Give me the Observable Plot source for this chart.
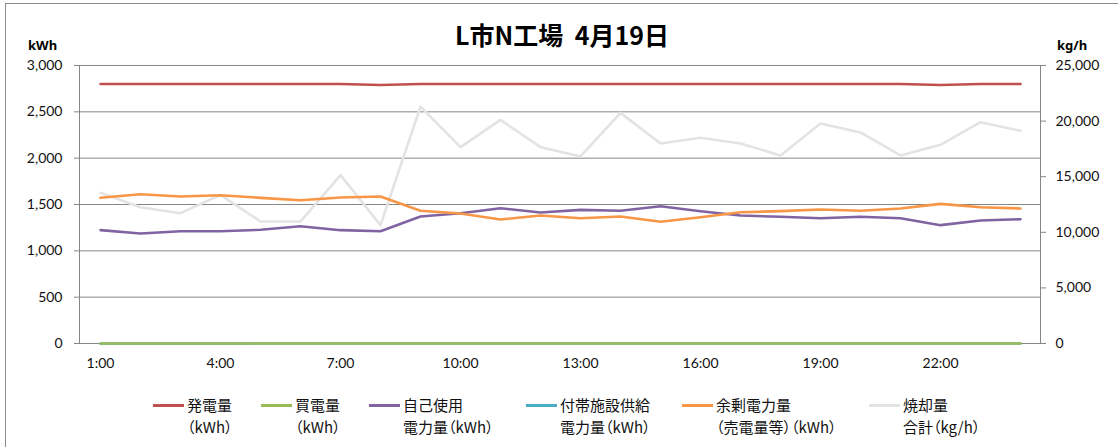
<!DOCTYPE html>
<html><head><meta charset="utf-8">
<script src="https://cdn.jsdelivr.net/npm/d3@7"></script>
<script src="https://cdn.jsdelivr.net/npm/@observablehq/plot@0.6"></script>
<style>
body{margin:0;background:#fff;}
#wrap{position:relative;width:1118px;height:447px;overflow:hidden;background:#fff;}
#border{position:absolute;left:5px;top:3px;width:1200px;height:600px;border-left:1px solid #8c8c8c;border-top:1px solid #8c8c8c;}
#chart{position:absolute;left:0;top:0;}
#title{position:absolute;left:3px;top:16px;width:1118px;text-align:center;font:700 25px "Noto Sans CJK JP",sans-serif;line-height:36px;color:#000;white-space:pre;}
.unit{position:absolute;top:36px;font:700 13px "Noto Sans",sans-serif;line-height:18px;color:#000;}
#legend{position:absolute;left:0;top:394px;width:1118px;height:50px;}
.item{position:absolute;top:0;}
.sw{position:absolute;left:0;top:10px;width:31px;height:3px;}
.lbl{position:absolute;left:34px;top:0;font:400 15px "Noto Sans CJK JP",sans-serif;line-height:22px;white-space:nowrap;color:#111;font-feature-settings:"palt";}
</style></head>
<body>
<div id="wrap">
  <div id="border"></div>
  <div id="chart"></div>
  <div id="title"></div>
  <div class="unit" id="uL" style="left:28px">kWh</div>
  <div class="unit" id="uR" style="left:1057px">kg/h</div>
  <div id="legend"></div>
</div>
<script>
// ---- data ----
const titleText = "L市N工場  4月19日";
const hours = ["1:00","2:00","3:00","4:00","5:00","6:00","7:00","8:00","9:00","10:00","11:00","12:00",
               "13:00","14:00","15:00","16:00","17:00","18:00","19:00","20:00","21:00","22:00","23:00","24:00"];
const xTickLabels = ["1:00","4:00","7:00","10:00","13:00","16:00","19:00","22:00"];
const leftTicks = [0, 500, 1000, 1500, 2000, 2500, 3000];
const rightTicks = [0, 5000, 10000, 15000, 20000, 25000];

const generation = [2800,2800,2800,2800,2800,2800,2800,2790,2800,2800,2800,2800,2800,2800,2800,2800,2800,2800,2800,2800,2800,2790,2800,2800];
const purchased  = [0,0,0,0,0,0,0,0,0,0,0,0,0,0,0,0,0,0,0,0,0,0,0,0];
const selfUse    = [1223,1187,1212,1212,1227,1266,1223,1212,1370,1406,1460,1413,1442,1432,1482,1428,1381,1367,1352,1367,1352,1277,1327,1341];
const auxSupply  = [0,0,0,0,0,0,0,0,0,0,0,0,0,0,0,0,0,0,0,0,0,0,0,0];
const surplus    = [1572,1611,1586,1600,1572,1546,1575,1586,1432,1403,1338,1381,1352,1370,1313,1363,1417,1428,1446,1432,1457,1507,1471,1457];
const incinerated= [13550,12260,11720,13370,10970,10970,15140,10640,21300,17660,20110,17660,16820,20740,17990,18500,17990,16910,19790,18980,16910,17870,19900,19130];

const seriesLine1 = ["発電量","買電量","自己使用","付帯施設供給","余剰電力量","焼却量"];
const seriesLine2 = ["（kWh）","（kWh）","電力量（kWh）","電力量（kWh）","（売電量等）（kWh）","合計（kg/h）"];
const seriesValues = [generation, purchased, selfUse, auxSupply, surplus, incinerated];
const seriesAxis = ["left","left","left","left","left","right"];

// ---- styles / layout ----
const seriesColors = ["#C0504D","#9BBB59","#8064A2","#4BACC6","#F79646","#E3E3E3"];
const drawOrder = [5,0,3,1,2,4]; // gray underneath, blue under green
const legendLeft = [153, 261, 369, 526, 682, 869];
const rightFactor = 3000 / 25000;

const names = seriesLine1.map((a, i) => a + seriesLine2[i]);
const rows = [];
for (const i of drawOrder) {
  seriesValues[i].forEach((v, j) => {
    rows.push({series: names[i], hour: hours[j], value: v,
               y: seriesAxis[i] === "right" ? v * rightFactor : v});
  });
}

const fmt = d3.format(",");
const chart = Plot.plot({
  width: 1118, height: 390,
  marginLeft: 79, marginRight: 78, marginTop: 65, marginBottom: 47,
  style: {fontFamily: "Lato, 'Noto Sans', sans-serif", fontSize: "14px", color: "#111", background: "transparent"},
  x: {type: "point", domain: hours, padding: 0.5},
  y: {domain: [0, 3000]},
  color: {domain: names, range: seriesColors},
  marks: [
    Plot.gridY(leftTicks, {stroke: "#868686", strokeOpacity: 1, strokeWidth: 1}),
    Plot.frame({stroke: "#868686"}),
    Plot.axisY(leftTicks, {anchor: "left", tickSize: 5, tickPadding: 12, tickFormat: fmt, label: null, stroke: "#868686"}),
    Plot.axisY(rightTicks, {anchor: "right", y: d => d * rightFactor, tickFormat: fmt, tickSize: 5, tickPadding: 10, label: null, stroke: "#868686"}),
    Plot.axisX(xTickLabels, {tickSize: 0, tickPadding: 15, label: null}),
    Plot.line(rows, {x: "hour", y: "y", z: "series", stroke: "series", strokeWidth: 2.6, strokeLinejoin: "round"})
  ]
});
document.getElementById("chart").appendChild(chart);
document.getElementById("title").textContent = titleText;

const leg = document.getElementById("legend");
seriesLine1.forEach((t, i) => {
  const item = document.createElement("div");
  item.className = "item";
  item.style.left = legendLeft[i] + "px";
  const sw = document.createElement("div");
  sw.className = "sw";
  sw.style.background = seriesColors[i];
  const lbl = document.createElement("div");
  lbl.className = "lbl";
  lbl.innerHTML = t + "<br>" + seriesLine2[i];
  item.appendChild(sw); item.appendChild(lbl);
  leg.appendChild(item);
});
</script>
</body></html>
